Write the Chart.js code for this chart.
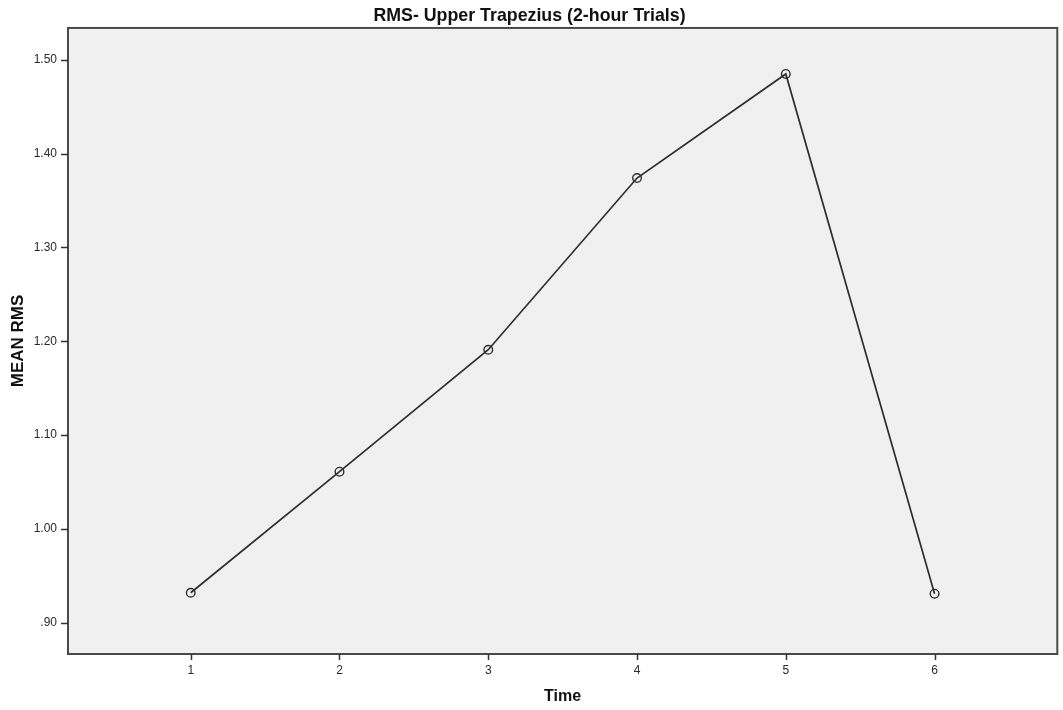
<!DOCTYPE html>
<html>
<head>
<meta charset="utf-8">
<style>
  html, body { margin: 0; padding: 0; background: #ffffff; }
  #wrap { width: 1063px; height: 710px; }
</style>
<script src="https://cdn.jsdelivr.net/npm/chart.js@4/dist/chart.umd.min.js"></script>
</head>
<body>
<div id="wrap"><canvas id="chart" width="1063" height="710"></canvas></div>
<script>
const timePoints = [1, 2, 3, 4, 5, 6];
const meanRms = [0.932, 1.061, 1.191, 1.374, 1.485, 0.931];
const yTicks = [0.9, 1.0, 1.1, 1.2, 1.3, 1.4, 1.5];

const FONT = "Liberation Sans, Arial, sans-serif";

// plot panel fill + frame + outward tick marks, like the SPSS chart
const panel = {
    id: "panel",
    beforeDatasetsDraw(chart) {
        const { ctx, chartArea: a } = chart;
        ctx.save();
        ctx.fillStyle = "#f0f0f0";
        ctx.fillRect(a.left, a.top, a.right - a.left, a.bottom - a.top);
        ctx.restore();
    },
    afterDatasetsDraw(chart) {
        const { ctx, chartArea: a, scales } = chart;
        ctx.save();
        ctx.strokeStyle = "#4a4a4a";
        ctx.lineWidth = 2;
        ctx.strokeRect(a.left, a.top, a.right - a.left, a.bottom - a.top);

        ctx.lineWidth = 1.5;
        ctx.strokeStyle = "#333333";
        ctx.beginPath();
        timePoints.forEach(v => {
            const px = Math.round(scales.x.getPixelForValue(v)) + 0.5;
            ctx.moveTo(px, a.bottom);
            ctx.lineTo(px, a.bottom + 6);
        });
        yTicks.forEach(v => {
            const py = Math.round(scales.y.getPixelForValue(v)) + 0.5;
            ctx.moveTo(a.left, py);
            ctx.lineTo(a.left - 7, py);
        });
        ctx.stroke();
        ctx.restore();
    }
};

const ctx = document.getElementById("chart").getContext("2d");
new Chart(ctx, {
    type: "line",
    data: {
        datasets: [{
            data: timePoints.map((t, i) => ({ x: t, y: meanRms[i] })),
            borderColor: "#2e2e2e",
            borderWidth: 1.7,
            tension: 0,
            pointRadius: 4.3,
            pointHoverRadius: 4.3,
            pointBorderWidth: 1.4,
            pointBorderColor: "#2e2e2e",
            pointBackgroundColor: "rgba(0,0,0,0)"
        }]
    },
    options: {
        responsive: false,
        animation: false,
        events: [],
        layout: { padding: { left: 0, right: 4, top: 0, bottom: 0 } },
        plugins: {
            legend: { display: false },
            tooltip: { enabled: false },
            title: {
                display: true,
                text: "RMS- Upper Trapezius (2-hour Trials)",
                color: "#111111",
                font: { family: FONT, size: 17.8, weight: "bold" },
                padding: { top: 5, bottom: 1.6 }
            }
        },
        scales: {
            x: {
                type: "linear",
                min: 0.175,
                max: 6.825,
                afterBuildTicks(scale) {
                    scale.ticks = timePoints.map(v => ({ value: v }));
                },
                afterFit(scale) { scale.height = 56; },
                grid: { display: false },
                border: { display: false },
                ticks: {
                    color: "#2a2a2a",
                    padding: 1,
                    font: { family: FONT, size: 12 },
                    callback: v => String(v)
                },
                title: {
                    display: true,
                    text: "Time",
                    color: "#111111",
                    font: { family: FONT, size: 16, weight: "bold" },
                    padding: { top: 0, bottom: 4 }
                }
            },
            y: {
                min: 0.8667,
                max: 1.534,
                afterBuildTicks(scale) {
                    scale.ticks = yTicks.map(v => ({ value: v }));
                },
                afterFit(scale) { scale.width = 68; },
                grid: { display: false },
                border: { display: false },
                ticks: {
                    color: "#2a2a2a",
                    padding: 3,
                    font: { family: FONT, size: 12 },
                    callback: v => {
                        const s = v.toFixed(2);
                        return s.startsWith("0") ? s.slice(1) : s;
                    }
                },
                title: {
                    display: true,
                    text: "MEAN RMS",
                    color: "#111111",
                    font: { family: FONT, size: 17, weight: "bold" },
                    padding: { top: 8, bottom: 0 }
                }
            }
        }
    },
    plugins: [panel]
});
</script>
</body>
</html>
